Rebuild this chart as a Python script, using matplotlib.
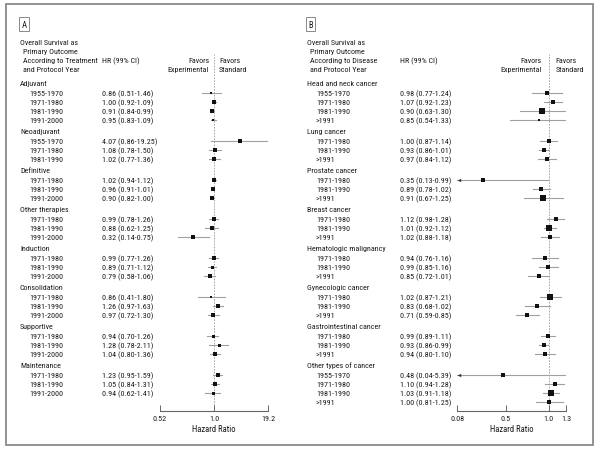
import matplotlib
matplotlib.use('Agg')
import matplotlib.pyplot as plt
import matplotlib.transforms as mtransforms
from matplotlib.patches import Rectangle

plt.rcParams['font.family'] = ['Roboto Condensed', 'Liberation Sans', 'DejaVu Sans']

# ---- Panel A: by treatment ----
groups_a = ['Adjuvant', 'Neoadjuvant', 'Definitive', 'Other therapies',
            'Induction', 'Consolidation', 'Supportive', 'Maintenance']
years_a = [['1955-1970', '1971-1980', '1981-1990', '1991-2000'],
           ['1955-1970', '1971-1980', '1981-1990'],
           ['1971-1980', '1981-1990', '1991-2000'],
           ['1971-1980', '1981-1990', '1991-2000'],
           ['1971-1980', '1981-1990', '1991-2000'],
           ['1971-1980', '1981-1990', '1991-2000'],
           ['1971-1980', '1981-1990', '1991-2000'],
           ['1971-1980', '1981-1990', '1991-2000']]
hr_a = [[0.86, 1.00, 0.91, 0.95], [4.07, 1.08, 1.02], [1.02, 0.96, 0.90],
        [0.99, 0.88, 0.32], [0.99, 0.89, 0.79], [0.86, 1.26, 0.97],
        [0.94, 1.28, 1.04], [1.23, 1.05, 0.94]]
lo_a = [[0.51, 0.92, 0.84, 0.83], [0.86, 0.78, 0.77], [0.94, 0.91, 0.82],
        [0.78, 0.62, 0.14], [0.77, 0.71, 0.58], [0.41, 0.97, 0.72],
        [0.70, 0.78, 0.80], [0.95, 0.84, 0.62]]
hi_a = [[1.46, 1.09, 0.99, 1.09], [19.25, 1.50, 1.36], [1.12, 1.01, 1.00],
        [1.26, 1.25, 0.75], [1.26, 1.12, 1.06], [1.80, 1.63, 1.30],
        [1.26, 2.11, 1.36], [1.59, 1.31, 1.41]]
# relative study weight (marker side)
wt_a = [[2.5, 5, 3.5, 2.5], [4, 4, 4], [4, 4, 4], [4, 4, 4],
        [4, 3, 4], [2.5, 4, 4.5], [3, 3, 3.5], [4.5, 3.5, 3]]
ticks_a = [0.052, 1.0, 19.2]
ticklabels_a = ['0.52', '1.0', '19.2']

# ---- Panel B: by disease ----
groups_b = ['Head and neck cancer', 'Lung cancer', 'Prostate cancer', 'Breast cancer',
            'Hematologic malignancy', 'Gynecologic cancer', 'Gastrointestinal cancer',
            'Other types of cancer']
years_b = [['1955-1970', '1971-1980', '1981-1990', '>1991'],
           ['1971-1980', '1981-1990', '>1991'],
           ['1971-1980', '1981-1990', '>1991'],
           ['1971-1980', '1981-1990', '>1991'],
           ['1971-1980', '1981-1990', '>1991'],
           ['1971-1980', '1981-1990', '>1991'],
           ['1971-1980', '1981-1990', '>1991'],
           ['1955-1970', '1971-1980', '1981-1990', '>1991']]
hr_b = [[0.98, 1.07, 0.90, 0.85], [1.00, 0.93, 0.97], [0.35, 0.89, 0.91],
        [1.12, 1.01, 1.02], [0.94, 0.99, 0.85], [1.02, 0.83, 0.71],
        [0.99, 0.93, 0.94], [0.48, 1.10, 1.03, 1.00]]
lo_b = [[0.77, 0.92, 0.63, 0.54], [0.87, 0.86, 0.84], [0.13, 0.78, 0.67],
        [0.98, 0.92, 0.88], [0.76, 0.85, 0.72], [0.87, 0.68, 0.59],
        [0.89, 0.86, 0.80], [0.04, 0.94, 0.91, 0.81]]
hi_b = [[1.24, 1.23, 1.30, 1.33], [1.14, 1.01, 1.12], [0.99, 1.02, 1.25],
        [1.28, 1.12, 1.18], [1.16, 1.16, 1.01], [1.21, 1.02, 0.85],
        [1.11, 0.99, 1.10], [5.39, 1.28, 1.18, 1.25]]
wt_b = [[5, 4.5, 6, 2.5], [4, 4, 5], [5, 4.5, 6], [4, 5.5, 5],
        [5, 4.5, 4.5], [6, 5, 4.5], [4, 4.5, 4], [4, 4.5, 6, 5]]
ticks_b = [0.23, 0.5, 1.0, 1.32]
ticklabels_b = ['0.08', '0.5', '1.0', '1.3']

W, H = 600, 452
TXT = '#1a1a1a'
FS = 5.8

fig = plt.figure(figsize=(W / 100, H / 100), dpi=100)
fig.patches.append(Rectangle((6 / W, 1 - 446 / H), 587 / W, 441 / H, transform=fig.transFigure,
                             fill=False, edgecolor='#8a8a8a', linewidth=1.3))

# row geometry in "line" units (1 unit = 9 px), first header at 84 px
ROW_PX = 9.0
Y0_PX = 84.0
GAP = 10.47 / ROW_PX


def layout(groups, years):
    y = 0.0
    head_y, row_y = [], []
    for g, yrs in zip(groups, years):
        head_y.append(y)
        y += GAP
        ys = []
        for _ in yrs:
            ys.append(y)
            y += 1
        y += GAP - 1
        row_y.append(ys)
    return head_y, row_y


def px_to_unit(p):
    return (p - Y0_PX) / ROW_PX


def panel(letter, groups, years, hr, lo, hi, wt, ticks, ticklabels,
          ax_left, ax_right, xlim, x_head, x_row, x_hr, subtitle, fav_gap):
    bottom_px, top_px = 411.7, 55.0
    ax = fig.add_axes([ax_left / W, 1 - bottom_px / H, (ax_right - ax_left) / W,
                       (bottom_px - top_px) / H])
    ax.set_xscale('log')
    ax.set_xlim(*xlim)
    ax.set_ylim(px_to_unit(bottom_px), px_to_unit(top_px))
    ax.patch.set_visible(False)
    for s in ['top', 'left', 'right']:
        ax.spines[s].set_visible(False)
    ax.spines['bottom'].set_color('#666666')
    ax.spines['bottom'].set_linewidth(0.8)
    ax.set_yticks([])
    ax.set_xticks(ticks)
    ax.set_xticklabels(ticklabels)
    ax.minorticks_off()
    ax.tick_params(axis='x', direction='in', length=4, width=0.7, color='#666666',
                   labelsize=FS, labelcolor=TXT, pad=3)
    ax.set_xlabel('Hazard Ratio', fontsize=FS + 0.4, color=TXT, labelpad=2.5)
    ax.axvline(1.0, color='#9a9a9a', lw=0.6, ls=(0, (2, 1.5)), zorder=1)

    tr = mtransforms.blended_transform_factory(fig.transFigure, ax.transData)
    head_y, row_y = layout(groups, years)
    for gi, g in enumerate(groups):
        ax.text(x_head / W, head_y[gi], g, transform=tr, fontsize=FS, color=TXT,
                va='center', ha='left', clip_on=False)
        for ri, yr in enumerate(years[gi]):
            y = row_y[gi][ri]
            ax.text(x_row / W, y, yr, transform=tr, fontsize=FS, color=TXT,
                    va='center', ha='left', clip_on=False)
            ax.text(x_hr / W, y, '{:.2f} ({:.2f}-{:.2f})'.format(hr[gi][ri], lo[gi][ri], hi[gi][ri]),
                    transform=tr, fontsize=FS, color=TXT, va='center', ha='left', clip_on=False)
            l, h = lo[gi][ri], hi[gi][ri]
            ax.plot([max(l, xlim[0]), min(h, xlim[1])], [y, y], color='#a0a0a0', lw=0.8, zorder=2)
            if l < xlim[0]:
                ax.plot([xlim[0] * 1.03], [y], marker='<', color='#333333', ms=2.5,
                        mew=0, zorder=3, clip_on=False)
            side_pt = wt[gi][ri] * 0.72
            ax.scatter([hr[gi][ri]], [y], marker='s', s=side_pt ** 2, color='#111111',
                       linewidths=0, zorder=4)

    # column headers
    hx = x_head / W
    for i, line in enumerate(subtitle):
        ax.text(hx + (0 if i == 0 else 3 / W), px_to_unit(43 + 9 * i), line, transform=tr,
                fontsize=FS, color=TXT, va='center', ha='left', clip_on=False)
    ax.text(x_hr / W, px_to_unit(61), 'HR (99% CI)', transform=tr, fontsize=FS,
            color=TXT, va='center', ha='left', clip_on=False)
    one_px = ax.transData.transform((1.0, 0))[0] / fig.dpi / fig.get_figwidth()
    for i, (lt, rt) in enumerate([('Favors', 'Favors'), ('Experimental', 'Standard')]):
        yy = px_to_unit(61 + 9 * i)
        ax.text(one_px - fav_gap / W, yy, lt, transform=tr, fontsize=FS, color=TXT,
                va='center', ha='right', clip_on=False)
        ax.text(one_px + fav_gap / W, yy, rt, transform=tr, fontsize=FS, color=TXT,
                va='center', ha='left', clip_on=False)

    # panel letter
    fig.text((x_head + 1.5) / W, 1 - 25 / H, letter, fontsize=FS + 0.4, color=TXT,
             va='center', ha='left',
             bbox=dict(boxstyle='square,pad=0.25', fc='white', ec='#777777', lw=0.6))
    return ax


panel('A', groups_a, years_a, hr_a, lo_a, hi_a, wt_a, ticks_a, ticklabels_a,
      160, 268, (0.052, 19.2), 20, 29, 102,
      ['Overall Survival as', 'Primary Outcome', 'According to Treatment', 'and Protocol Year'], 5)
panel('B', groups_b, years_b, hr_b, lo_b, hi_b, wt_b, ticks_b, ticklabels_b,
      457.3, 566, (0.23, 1.32), 307, 316, 400,
      ['Overall Survival as', 'Primary Outcome', 'According to Disease', 'and Protocol Year'], 7)

fig.savefig('out.png', dpi=100)
